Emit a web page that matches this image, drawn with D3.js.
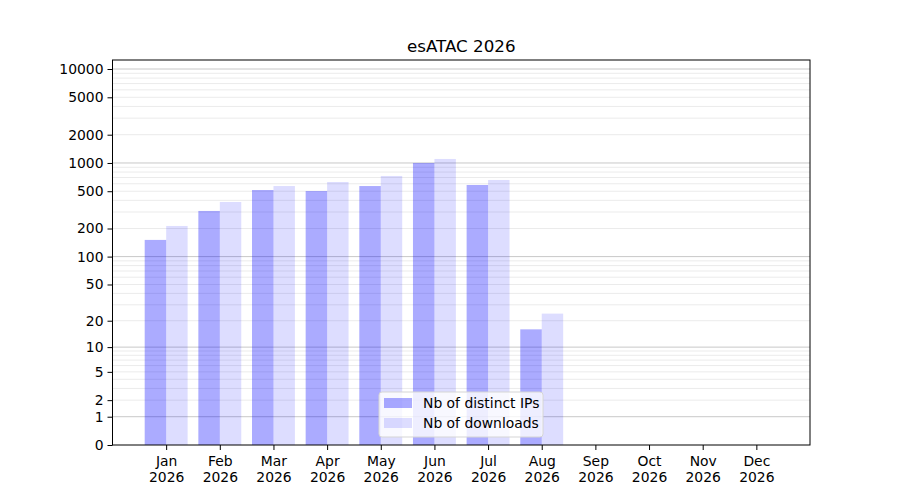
<!DOCTYPE html>
<html>
<head>
<meta charset="utf-8">
<script src="https://cdn.jsdelivr.net/npm/d3@7"></script>
<style>
  body { margin: 0; background: #fff; }
  svg, svg text { font-family: "DejaVu Sans", sans-serif; }
</style>
</head>
<body>
<div id="chart"></div>
<script>
// ── data ──
const months = ["Jan", "Feb", "Mar", "Apr", "May", "Jun", "Jul", "Aug", "Sep", "Oct", "Nov", "Dec"];
const year = "2026";
const ips = [151, 308, 515, 503, 568, 1000, 583, 16, 0, 0, 0, 0];
const downloads = [213, 384, 568, 627, 727, 1103, 659, 24, 0, 0, 0, 0];
const yTicks = [0, 1, 2, 5, 10, 20, 50, 100, 200, 500, 1000, 2000, 5000, 10000];
const majorGrid = [1, 10, 100, 1000, 10000];

const W = 900, H = 500,
  M = { t: 60, r: 90, b: 55, l: 112.5 },
  w = W - M.l - M.r,
  h = H - M.t - M.b;

const svg = d3.select("#chart").append("svg")
  .attr("width", W).attr("height", H);
const g = svg.append("g").attr("transform", `translate(${M.l},${M.t})`);

const x = d3.scaleLinear().domain([-1, 12]).range([0, w]);
const y = d3.scaleSymlog().constant(1).domain([0, 12470]).range([h, 0]);

// minor grid: 2..9 x decade
const minor = [];
[1, 10, 100, 1000, 10000].forEach((d) => {
  for (let k = 2; k <= 9; k++) if (d * k < 12470) minor.push(d * k);
});
g.append("g").selectAll("line").data(minor).enter().append("line")
  .attr("x1", 0).attr("x2", w)
  .attr("y1", (d) => y(d)).attr("y2", (d) => y(d))
  .attr("stroke", "#ebebeb").attr("stroke-width", 1);
g.append("g").selectAll("line").data(majorGrid).enter().append("line")
  .attr("x1", 0).attr("x2", w)
  .attr("y1", (d) => y(d)).attr("y2", (d) => y(d))
  .attr("stroke", "#c8c8c8").attr("stroke-width", 1);

// bars
const bw = 0.4;
g.append("g").selectAll("rect").data(ips).enter().append("rect")
  .attr("x", (d, i) => x(i - bw))
  .attr("width", x(bw) - x(0))
  .attr("y", (d) => y(d))
  .attr("height", (d) => h - y(d))
  .attr("fill", "blue").attr("fill-opacity", 0.33);
g.append("g").selectAll("rect").data(downloads).enter().append("rect")
  .attr("x", (d, i) => x(i))
  .attr("width", x(bw) - x(0))
  .attr("y", (d) => y(d))
  .attr("height", (d) => h - y(d))
  .attr("fill", "blue").attr("fill-opacity", 0.135);

// axes
const yAxis = g.append("g")
  .call(d3.axisLeft(y).tickValues(yTicks).tickFormat(d3.format("d")).tickSize(5).tickPadding(4))
  .attr("font-family", null).attr("font-size", null);
yAxis.selectAll("text").attr("font-size", "13.9px").attr("fill", "#000");
yAxis.selectAll("line").attr("stroke", "#000");
yAxis.select(".domain").remove();

const xAxis = g.append("g").attr("transform", `translate(0,${h})`)
  .call(d3.axisBottom(x).tickValues(d3.range(12)).tickSize(5).tickFormat(""))
  .attr("font-family", null).attr("font-size", null);
xAxis.select(".domain").remove();
xAxis.selectAll("line").attr("stroke", "#000");
xAxis.selectAll(".tick").append("text")
  .attr("fill", "#000").attr("font-size", "13.9px").attr("text-anchor", "middle")
  .each(function (d) {
    const t = d3.select(this);
    t.append("tspan").attr("x", 0).attr("y", 21).text(months[d]);
    t.append("tspan").attr("x", 0).attr("y", 37).text(year);
  });

// frame
g.append("rect").attr("width", w).attr("height", h)
  .attr("fill", "none").attr("stroke", "#000").attr("stroke-width", 1);

// title
svg.append("text").attr("x", M.l + w / 2).attr("y", M.t - 8)
  .attr("text-anchor", "middle").attr("font-size", "16.7px")
  .text("esATAC 2026");

// legend
const leg = svg.append("g").attr("transform", "translate(379,392)");
leg.append("rect").attr("width", 164).attr("height", 45).attr("rx", 3)
  .attr("fill", "#fff").attr("fill-opacity", 0.8)
  .attr("stroke", "#d5d5d5");
const items = [
  { label: "Nb of distinct IPs", op: 0.33 },
  { label: "Nb of downloads", op: 0.135 },
];
items.forEach((it, i) => {
  leg.append("rect").attr("x", 5).attr("y", 6 + i * 20).attr("width", 28).attr("height", 10)
    .attr("fill", "blue").attr("fill-opacity", it.op);
  leg.append("text").attr("x", 44).attr("y", 16 + i * 20)
    .attr("font-size", "13.9px").attr("fill", "#000").text(it.label);
});
</script>
</body>
</html>
